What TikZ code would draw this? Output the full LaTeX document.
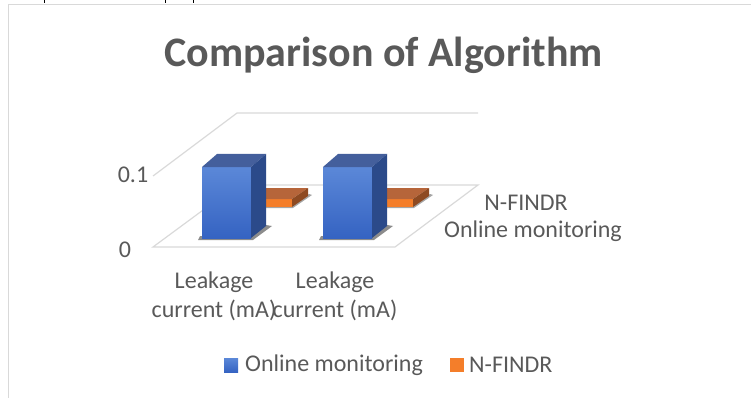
\documentclass[tikz,border=0pt]{standalone}
\usepackage{fontspec}
\setmainfont{Carlito}
\usepackage{tikz}

\definecolor{txtgray}{HTML}{595959}
\definecolor{gridgray}{HTML}{D9D9D9}
\definecolor{bluetop}{HTML}{5B88D8}
\definecolor{bluebot}{HTML}{3563C2}
\definecolor{bluelid}{HTML}{445F9C}
\definecolor{blueside}{HTML}{2B4A8A}
\definecolor{orangefront}{HTML}{F47E2A}
\definecolor{orangelid}{HTML}{B6653A}
\definecolor{orangeside}{HTML}{8E4A22}

\tikzset{
  chartlabel/.style={text=txtgray, inner sep=0pt, font=\fontsize{24}{29}\selectfont},
  gridline/.style={gridgray, line width=1.2pt},
  keybox/.style={minimum size=14pt, inner sep=0pt}
}

\begin{document}
\begin{tikzpicture}[x=1pt, y=-1pt]
    \useasboundingbox (0,0) rectangle (751,398);

    % chart frame and the bits of page text above it
    \draw[gridgray, line width=1.5pt] (8.5,398) -- (8.5,4.5) -- (751,4.5);
    \foreach \xt in {44,165,193}
        \draw[black, line width=0.8pt] (\xt,0) -- (\xt,3.5);

    % title
    \node[text=txtgray, inner sep=0pt, anchor=base, font=\fontsize{42}{50}\selectfont\bfseries] (title) at (383.5,67) {Comparison of Algorithm};

    % floor (value 0) and the 0.1 gridline
    \draw[gridline] (153,247) -- (237,185) -- (478,185) -- (395,247) -- cycle;
    \draw[gridline] (153,176) -- (237,113) -- (478,113);

    % value axis
    \node[chartlabel] (tick1) at (133,175) {0.1};
    \node[chartlabel] (tick0) at (125,250) {0};

    % the two categories
    \foreach \dx/\nm in {0/catA,121/catB}{
        \begin{scope}[xshift=\dx]
            % N-FINDR column (almost flat, behind)
            \fill[black, opacity=0.35] (243,208) -- (293,208) -- (312,195) -- (309,194) -- (292,205) -- cycle;
            \fill[orangefront] (243,199) rectangle (292,207);
            \fill[orangelid] (243,199) -- (292,199) -- (308,188) -- (259,188) -- cycle;
            \fill[orangeside] (292,199) -- (308,188) -- (308,196) -- (292,207) -- cycle;

            % Online monitoring column
            \fill[black, opacity=0.45] (198,240) -- (253,240) -- (272,226) -- (266,225) -- (251,236) -- (200,236) -- cycle;
            \shade[top color=bluetop, bottom color=bluebot] (202,167) rectangle (251,238);
            \fill[bluelid] (202,167) -- (251,167) -- (266,154) -- (217,154) -- cycle;
            \fill[blueside] (251,167) -- (266,154) -- (266,226) -- (251,238) -- cycle;
        \end{scope}
        \node[chartlabel, align=center] (\nm) at (214+\dx,296) {Leakage\\current (mA)};
    }

    % series names on the depth axis
    \node[chartlabel] (depthB) at (526,203) {N-FINDR};
    \node[chartlabel] (depthA) at (533,231) {Online monitoring};

    % legend
    \node[keybox, top color=bluetop, bottom color=bluebot] (keyA) at (231,365) {};
    \node[chartlabel, anchor=west] (keyAtext) at (245,365) {Online monitoring};
    \node[keybox, fill=orangefront] (keyB) at (456.5,365) {};
    \node[chartlabel, anchor=west] (keyBtext) at (469,365) {N-FINDR};

\end{tikzpicture}
\end{document}
